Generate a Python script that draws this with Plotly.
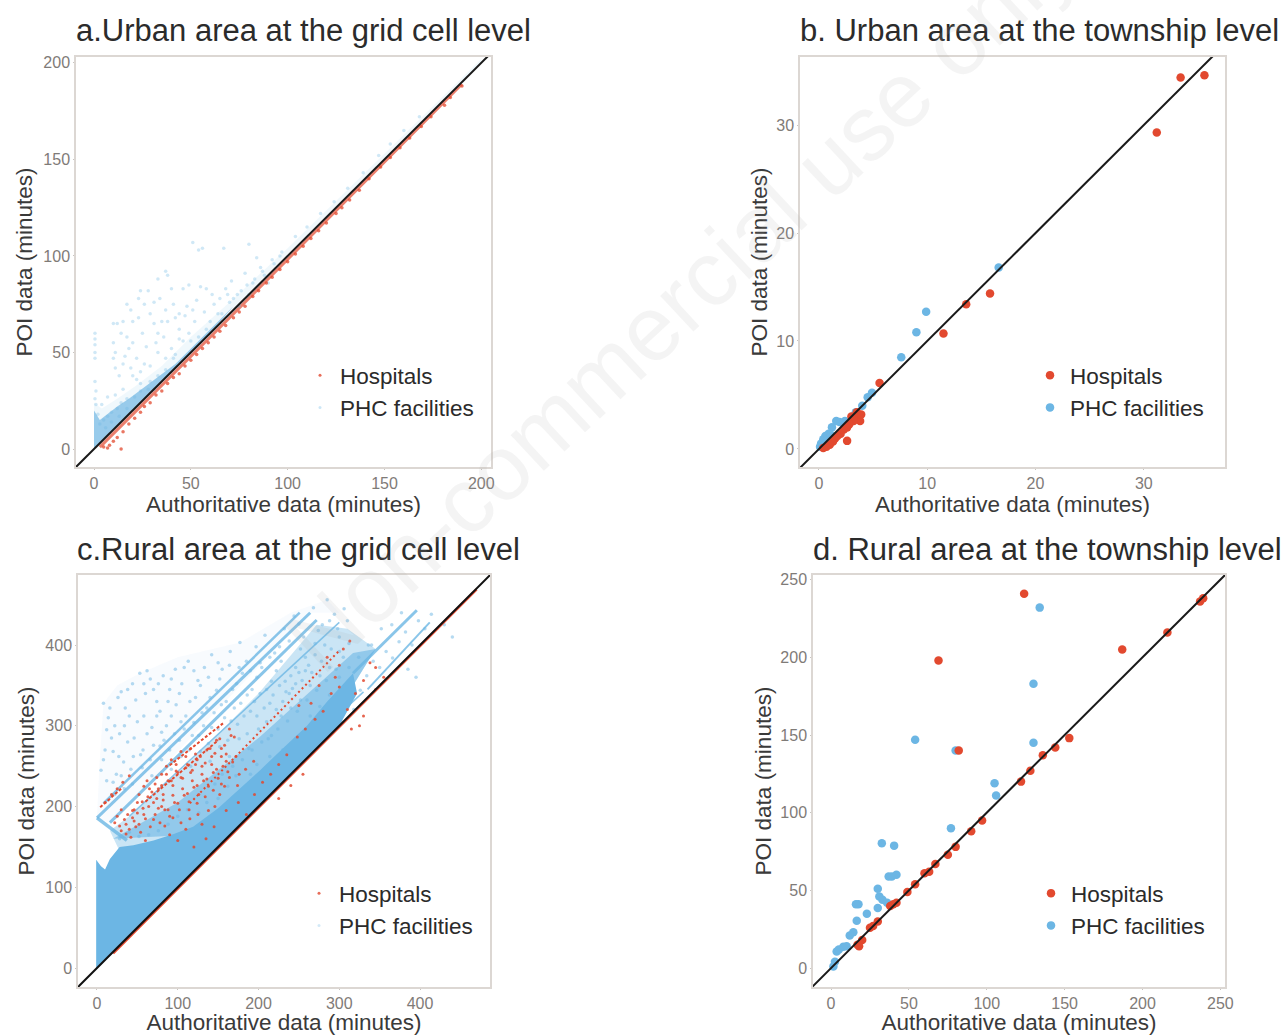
import plotly.graph_objects as go

W, H = 1285, 1035
RED = "#E2492F"
BLUE = "#6CB6E4"

# ---------- panel a: urban, grid cell ----------
a_phc_points = [(51,107),(54,103),(56,104),(67,104),(80,106),(0.5,60),(0.5,57),(0.5,54),(0.5,50),(0.5,47),(0.5,35),(1,30),(0.5,26),(1,23),
 (10,65),(12,65),(15,66),(17,75),(19,72),(24,82),(28,82),(23,78),(37,92),(33,88),(38,90),(49,85),(46,83),(58,83),(68,83),(69,80),(78,91),(84,99),(93,96),(88,90),(82,86),
 (10,55),(11,50),(10,47),(11,42),(16,48),(20,55),(25,60),(20,66),(31,65),(33,60),(37,72),(41,75),(38,66),(44,70),(48,74),(53,77),(57,71),(62,75),(66,70),(72,78),(76,82),
 (19,42),(20,38),(22,36),(24,40),(24,34),(28,31),(31,31),(26,44),(33,50),(37,47),(42,49),(46,56),(50,56),(54,58),(60,66),(64,70),(58,62),(52,66),(49,60),(44,57),
 (5,15),(7,17),(9,19),(12,21),(14,24),(17,26),(21,27),(15,31),(11,28),(7,27),(4,23),(2,18),(3,13),(6,11),(9,14),(13,17),(17,21),(24,30),(29,35),(33,38),(37,41),(41,47),
 (70,76),(74,80),(79,85),(83,88),(87,92),(92,98),(97,102),(104,110),(110,115),(117,122),(124,128),(131,135),(139,143),(147,152),(153,158),(160,165),(168,172),
 (13,38),(15,44),(18,52),(22,47),(27,53),(29,70),(34,78),(40,83),(44,62),(47,69),(51,72),(55,84),(61,80),(65,78),(71,87),(75,74),(80,80),(86,94),(90,86),(96,100),(29,43),(32,55),(36,58),(40,52),(26,75),(31,76),(42,68),(35,66),(14,60),(23,68),(17,58)]
a_phc_dense_x = [0,0,3,7,12,18,26,34,42,52,62,72,60,40,20,8,0]
a_phc_dense_y = [0,20,15,18,22,26,32,38,44,54,64,74,60,40,20,8,0]
a_phc_fringe_x = [0,0,4,12,22,35,50,70,100,150,200,200,100,50,0]
a_phc_fringe_y = [0,24,21,26,33,43,58,76,104,153,202,200,100,50,0]
a_hosp_points = [(5,1),(7,0.5),(8,2),(10,4),(14,0),(12,6),(15,9),(18,13),(21,16),(24,19),(26,22),(29,24),(32,28),(35,30),(38,34),(41,37),(44,39),(47,43),(50,46),(53,49),(56,52),(59,55),(62,58),(65,61),(68,64),(72,68),(75,71),(78,74),(82,79),(85,82),(89,86),(92,89),(96,93),(100,97),(104,101),(108,105),(112,109),(116,113),(120,117),(125,122),(128,125),(132,129),(137,134),(142,140),(148,146),(153,151),(158,156),(163,161),(169,167),(174,172),(181,178),(184,182),(190,188)]
a_hosp_band_x = [3,70,190]
a_hosp_band_y = [1,68,189]

# ---------- panel b: urban, township ----------
b_hosp_x = [35.6,33.4,31.2,15.8,13.6,11.5,5.6,3.6,3.8,3.2,3.5,3.9,2.6,2.6,2.3,2.0,1.7,1.3,1.0,0.7,0.4,1.5,3.0,2.8]
b_hosp_y = [34.6,34.4,29.3,14.4,13.4,10.7,6.1,3.0,2.6,2.6,3.4,3.2,0.75,2.0,1.8,1.4,1.2,0.7,0.4,0.2,0.1,1.0,3.0,2.3]
b_phc_x = [16.6,9.9,9.0,7.6,4.9,4.5,4.0,3.4,1.9,1.6,1.2,0.9,0.6,0.4,0.2,0.1,0.5,0.8,1.1,2.4]
b_phc_y = [16.8,12.7,10.8,8.5,5.2,4.8,4.0,3.4,2.5,2.6,2.0,1.4,1.2,0.9,0.5,0.2,0.4,0.9,1.3,2.6]

# ---------- panel c: rural, grid cell ----------
c_phc_solid_x = [-1,-1,5,10,16,22,28,45,70,95,119,150,180,202,230,260,285,317,322,300,200,100,30,-1]
c_phc_solid_y = [-2,134,126,122,135,142,150,152,158,166,175,198,225,245,272,300,330,365,340,300,200,100,30,-2]
c_phc_mid_x = [16,40,120,200,272,310,345,317,202,119,28]
c_phc_mid_y = [170,188,260,340,425,420,395,350,230,165,145]
c_phc_lower_x = [20,100,200,317,345,317,202,119]
c_phc_lower_y = [160,205,285,390,395,350,230,165]
c_phc_cloud_x = [0,3,8,25,53,100,177,240,285,300,264,16,0]
c_phc_cloud_y = [186,250,328,350,365,385,403,440,456,440,440,180,186]
c_streak_1_x = [0,264]
c_streak_1_y = [186,440]
c_streak_2_x = [8,251]
c_streak_2_y = [204,440]
c_streak_3_x = [16,272]
c_streak_3_y = [180,431]
c_streak_4_x = [0,37]
c_streak_4_y = [186,158]
c_streak_5_x = [317,396]
c_streak_5_y = [365,443]
c_streak_6_x = [335,412]
c_streak_6_y = [345,428]
c_streak_7_x = [40,300]
c_streak_7_y = [188,428]
c_streak_9_x = [110,330]
c_streak_9_y = [140,342]
c_phc_points = [(8,328),(14,310),(22,300),(30,342),(35,322),(44,352),(53,365),(60,340),(66,358),(74,330),(82,362),(90,345),(97,370),(105,352),(113,380),(125,356),(133,372),(142,388),(155,370),(165,392),(177,403),(185,380),(197,398),(208,412),(220,390),(232,420),(244,436),(256,410),(268,446),(285,456),(294,438),(279,425),(270,402),(258,385),(246,372),(233,355),(222,368),(210,345),(198,360),(186,338),(173,352),(160,330),(148,344),(136,322),(122,335),(110,312),(98,326),(86,300),(74,312),(62,290),(50,305),(38,280),(27,262),(18,285),(10,270),(5,245),(12,232),(24,240),(33,255),(45,262),(57,270),(70,276),(83,282),(96,290),(108,296),(120,304),(132,300),(145,316),(158,310),(170,322),(182,312),(195,330),(207,322),(218,338),(230,330),(242,346),(254,356),(266,366),(278,380),(290,395),(300,410),(310,430),(305,385),(296,370),(284,356),(272,344),(260,332),(248,318),(236,306),(224,296),(212,284),(200,296),(188,272),(176,284),(164,262),(152,274),(140,256),(128,268),(116,250),(104,262),(92,246),(80,258),(68,238),(56,248),(44,228),(34,222),(22,215),(14,208),
 (190,240),(198,252),(206,238),(214,262),(222,250),(230,270),(238,258),(246,284),(254,272),(262,292),(270,282),(278,304),(286,296),(294,316),(302,306),(310,328),(318,320),(326,344),(334,362),(342,380),(350,372),(358,392),(366,384),(374,404),(382,416),(390,400),(398,430),(406,420),(414,438),(340,400),(352,420),(365,425),(377,440),(150,210),(162,225),(172,238),(182,222),(126,192),(136,205),(146,228),(112,196),(100,188),(88,178),(76,170),(64,165),(52,163),(40,168),(28,160),(430,425),(440,410),(385,370),(395,360),
 (16,322),(26,335),(38,345),(48,332),(58,352),(70,345),(78,318),(88,330),(102,340),(115,330),(128,350),(140,335),(152,358),(168,345),(180,365),(192,345),(204,372),(216,355),(228,380),(240,362),(252,395),(262,375),(274,418),(288,430),(298,420),(306,445),(250,426),(238,405),(226,398),(214,385),(202,378),(190,368),(176,372),(164,375),(150,378),(138,360),(120,368),(108,372),(92,358),(76,352),(62,368),(40,312),(28,290),(20,268),(8,258),(12,295),(34,300),(46,285),(58,312),(68,298),(80,292),(92,312),(104,305),(118,288),(130,316),(142,298),(154,326),(166,306),(178,328),(190,318),(202,340),(214,328),(226,350),(238,340),(250,366),(264,350),(276,362),(288,372),(300,392),(312,402),(282,400),(270,388),(258,368),(246,352),(234,342),(222,320),(210,305),(198,312),(186,290),(174,302),(162,282),(150,296),(138,278),(126,288),(114,270),(102,282),(90,270),(78,275),(66,258),(54,264),(42,246),(30,238),(20,230),(155,240),(168,250),(180,258),(192,270),(204,280),(216,288),(228,312),(240,322),(252,332),(264,312),(276,324),(288,338),(300,360),(312,372),(324,385),(336,400)]
c_hosp_points = [(10,205),(18,215),(25,222),(32,230),(40,238),(22,180),(30,170),(36,178),(42,162),(48,175),(54,168),(60,158),(44,195),(50,205),(57,198),(63,212),(70,205),(76,222),(82,215),(88,232),(94,226),(100,242),(106,235),(112,252),(118,245),(124,258),(130,250),(136,270),(142,262),(148,282),(154,272),(160,265),(166,288),(172,262),(176,240),(60,185),(66,175),(72,190),(78,180),(84,196),(90,188),(96,205),(102,196),(108,214),(114,206),(120,224),(126,215),(132,232),(138,225),(144,242),(150,235),(156,250),(162,243),(168,255),(80,240),(86,250),(92,258),(98,252),(104,268),(110,262),(116,272),(122,265),(72,228),(65,222),(58,225),(52,215),(46,182),(38,190),(30,196),(25,188),(90,165),(100,158),(110,172),(120,150),(130,178),(138,195),(146,200),(152,215),(158,225),(115,185),(125,190),(135,160),(145,175),(160,195),(175,205),(185,190),(195,215),(205,230),(215,240),(225,252),(235,264),(248,286),(258,296),(270,308),(280,318),(290,340),(300,348),(310,320),(320,340),(330,356),(338,378),(305,395),(313,405),(285,385),(300,375),(295,360),(275,350),(265,328),(250,325),(345,372),(325,300),(315,296),(330,312),(345,345),(355,360),(225,210),(240,226),(255,240),
 (28,176),(34,184),(40,172),(46,196),(52,178),(58,190),(64,200),(70,184),(76,198),(82,208),(88,196),(94,214),(100,204),(106,222),(112,216),(118,232),(124,226),(130,240),(136,234),(142,252),(148,246),(154,262),(160,256),(74,236),(80,226),(86,240),(92,232),(98,244),(104,236),(110,248),(116,242),(122,252),(128,262),(134,254),(140,272),(146,266),(152,284),(158,276),(164,296),(170,286),(62,232),(68,218),(74,210),(80,200),(56,206),(50,192),(44,186),(36,166),(84,176),(94,186),(104,180),(114,196),(124,204),(134,212),(144,220),(154,228),(164,236),(174,226),(184,246),(194,256)]
c_hosp_dots_x = [115,301]
c_hosp_dots_y = [204,394]
c_hosp_streak_1_x = [90,156]
c_hosp_streak_1_y = [251,303]
c_hosp_streak_2_x = [4,32]
c_hosp_streak_2_y = [199,224]
c_hosp_streak_3_x = [60,150]
c_hosp_streak_3_y = [206,282]
c_hosp_band_x = [20,470]
c_hosp_band_y = [18,469]

# ---------- panel d: rural, township ----------
d_hosp_x = [124,69,187,216,237,239,82,153,144,136,128,122,97,90,80,75,67,63,60,54,49,42,40,38,30,27,25,20,18,17]
d_hosp_y = [241,198,205,216,236,238,140,148,142,137,127,120,95,88,78,73,67,62,61,54,49,42,41,40,30,27,26,18,14,15]
d_phc_x = [134,130,130,80,54,105,106,77,32.6,40.5,39,42,37,30,31,33,36,30,17.6,16,23,16.5,14.3,12,7.9,5,3.6,1.5,10,2.5]
d_phc_y = [232,183,145,140,147,119,111,90,80.3,78.8,59,60,59,51,46,44,42,38.6,41,41,35,30.5,23,21,13.7,12,10.6,1,14,4]

identity_x = [-30,510]
identity_y = [-30,510]

# ---------- labels ----------
titles = ["a.Urban area at the grid cell level","b. Urban area at the township level","c.Rural area at the grid cell level","d. Rural area at the township level"]
x_title = "Authoritative data (minutes)"
y_title = "POI data (minutes)"
series_names = ["Hospitals","PHC facilities"]
ticks_a = [0,50,100,150,200]
ticks_b = [0,10,20,30]
ticks_c = [0,100,200,300,400]
ticks_d = [0,50,100,150,200,250]

fig = go.Figure()

def ax_names(i):
    return ("x" if i == 1 else f"x{i}", "y" if i == 1 else f"y{i}")

def unzip(p):
    return [q[0] for q in p], [q[1] for q in p]

def points(i, x, y, color, size, opacity, name=None, legend=False):
    xa, ya = ax_names(i)
    fig.add_trace(go.Scatter(x=x, y=y, xaxis=xa, yaxis=ya, mode="markers", name=name or "",
        showlegend=legend, legend="legend" if i == 1 else f"legend{i}",
        marker=dict(color=color, size=size, opacity=opacity, line=dict(width=0))))

def poly(i, x, y, color):
    xa, ya = ax_names(i)
    fig.add_trace(go.Scatter(x=x, y=y, xaxis=xa, yaxis=ya, mode="lines", fill="toself",
        fillcolor=color, line=dict(width=0), showlegend=False, hoverinfo="skip"))

def seg(i, x, y, color, width, dash="solid"):
    xa, ya = ax_names(i)
    fig.add_trace(go.Scatter(x=x, y=y, xaxis=xa, yaxis=ya, mode="lines",
        line=dict(color=color, width=width, dash=dash), showlegend=False, hoverinfo="skip"))

# a
poly(1, a_phc_fringe_x, a_phc_fringe_y, "rgba(108,182,228,0.10)")
poly(1, a_phc_dense_x, a_phc_dense_y, "rgba(80,165,220,0.55)")
seg(1, a_hosp_band_x, a_hosp_band_y, "rgba(226,73,47,0.7)", 3)
ax, ay = unzip(a_phc_points)
points(1, ax, ay, BLUE, 3.5, 0.32)
hx, hy = unzip(a_hosp_points)
points(1, hx, hy, RED, 3.5, 0.75)
seg(1, identity_x, identity_y, "#1a1a1a", 2)
points(1, [None], [None], RED, 3, 0.8, series_names[0], True)
points(1, [None], [None], BLUE, 3, 0.35, series_names[1], True)

# b
points(2, b_phc_x, b_phc_y, BLUE, 8.5, 1)
points(2, b_hosp_x, b_hosp_y, RED, 8.5, 1)
seg(2, identity_x, identity_y, "#1a1a1a", 2)
points(2, [None], [None], RED, 8.5, 1, series_names[0], True)
points(2, [None], [None], BLUE, 8.5, 1, series_names[1], True)

# c
poly(3, c_phc_cloud_x, c_phc_cloud_y, "rgba(108,182,228,0.05)")
poly(3, c_phc_mid_x, c_phc_mid_y, "rgba(108,182,228,0.36)")
poly(3, c_phc_lower_x, c_phc_lower_y, "rgba(108,182,228,0.60)")
for sx, sy, w in [(c_streak_1_x,c_streak_1_y,3),(c_streak_2_x,c_streak_2_y,2.5),(c_streak_3_x,c_streak_3_y,3),(c_streak_4_x,c_streak_4_y,3.5),
                  (c_streak_5_x,c_streak_5_y,3),(c_streak_6_x,c_streak_6_y,2),(c_streak_7_x,c_streak_7_y,1.5),(c_streak_9_x,c_streak_9_y,1.5)]:
    seg(3, sx, sy, "rgba(108,182,228,0.8)", w)
cx, cy = unzip(c_phc_points)
points(3, cx, cy, BLUE, 3.5, 0.5)
poly(3, c_phc_solid_x, c_phc_solid_y, BLUE)
seg(3, c_hosp_band_x, c_hosp_band_y, RED, 2.5)
seg(3, c_hosp_dots_x, c_hosp_dots_y, RED, 2, "2px,3px")
for sx, sy in [(c_hosp_streak_1_x,c_hosp_streak_1_y),(c_hosp_streak_2_x,c_hosp_streak_2_y),(c_hosp_streak_3_x,c_hosp_streak_3_y)]:
    seg(3, sx, sy, RED, 2, "3px,2px")
chx, chy = unzip(c_hosp_points)
points(3, chx, chy, RED, 3, 0.85)
seg(3, identity_x, identity_y, "#111111", 2)
points(3, [None], [None], RED, 3, 0.8, series_names[0], True)
points(3, [None], [None], BLUE, 3, 0.3, series_names[1], True)

# d
points(4, d_phc_x, d_phc_y, BLUE, 8.5, 1)
points(4, d_hosp_x, d_hosp_y, RED, 8.5, 1)
seg(4, identity_x, identity_y, "#1a1a1a", 2)
points(4, [None], [None], RED, 8.5, 1, series_names[0], True)
points(4, [None], [None], BLUE, 8.5, 1, series_names[1], True)

# (left, right, top, bottom) pixels and data ranges
boxes = {1:(76,491,57,467), 2:(800,1225,57,467), 3:(78,490,575,987), 4:(813,1225,575,987)}
ranges = {1:([-9.3,205],[-9.3,203]), 2:([-1.75,37.5],[-1.67,36.3]), 3:([-23.5,486.6],[-23.5,486.7]), 4:([-11.6,253],[-12.2,253])}
tick_sets = {1:ticks_a, 2:ticks_b, 3:ticks_c, 4:ticks_d}
title_pos = {1:74, 2:798, 3:75, 4:811}
title_y = {1:30, 2:30, 3:549, 4:549}
legend_pos = {1:(300,354), 2:(1030,354), 3:(299,872), 4:(1031,872)}
y_standoff = {1:4, 2:2, 3:4, 4:2}

layout = dict(width=W, height=H, margin=dict(l=0,r=0,t=0,b=0), paper_bgcolor="white", plot_bgcolor="white",
              font=dict(family="Liberation Sans", color="#7a7a7a"), annotations=[])
for i,(l,r,t,b) in boxes.items():
    xk = "xaxis" if i == 1 else f"xaxis{i}"
    yk = "yaxis" if i == 1 else f"yaxis{i}"
    common = dict(showgrid=False, zeroline=False, showline=True, mirror=True, linecolor="#dcd7d3", linewidth=1.5, automargin=False,
                  ticks="outside", ticklen=1, tickcolor="#c8c4c0", tickfont=dict(size=16, color="#7f7b78"))
    ya = ax_names(i)[1]
    xa = ax_names(i)[0]
    layout[xk] = dict(domain=[l/W, r/W], range=ranges[i][0], tickvals=tick_sets[i], anchor=ya,
                      title=dict(text=x_title, font=dict(size=22.5, color="#3a3a3a"), standoff=3), **common)
    layout[yk] = dict(domain=[1-b/H, 1-t/H], range=ranges[i][1], tickvals=tick_sets[i], anchor=xa,
                      title=dict(text=y_title, font=dict(size=22.5, color="#3a3a3a"), standoff=y_standoff[i]), **common)
    lg = dict(x=legend_pos[i][0]/W, y=1-legend_pos[i][1]/H, xanchor="left", yanchor="top", bgcolor="rgba(255,255,255,0)",
              font=dict(size=22.5, color="#2b2b2b"), itemsizing="trace", tracegroupgap=0, itemwidth=30)
    layout["legend" if i == 1 else f"legend{i}"] = lg
    layout["annotations"].append(dict(text=titles[i-1], xref="paper", yref="paper", x=title_pos[i]/W, y=1-title_y[i]/H,
        xanchor="left", yanchor="middle", showarrow=False, font=dict(size=31, color="#2b2b2b")))
layout["annotations"].append(dict(text="Non-commercial use only", xref="paper", yref="paper", x=680/W, y=1-300/H,
    xanchor="center", yanchor="middle", textangle=-43, showarrow=False, font=dict(size=92, color="rgba(170,170,170,0.13)")))
fig.update_layout(**layout)
fig.write_html("out.html", config={"displayModeBar": False}, post_script="document.documentElement.style.margin='0';document.body.style.margin='0';")
